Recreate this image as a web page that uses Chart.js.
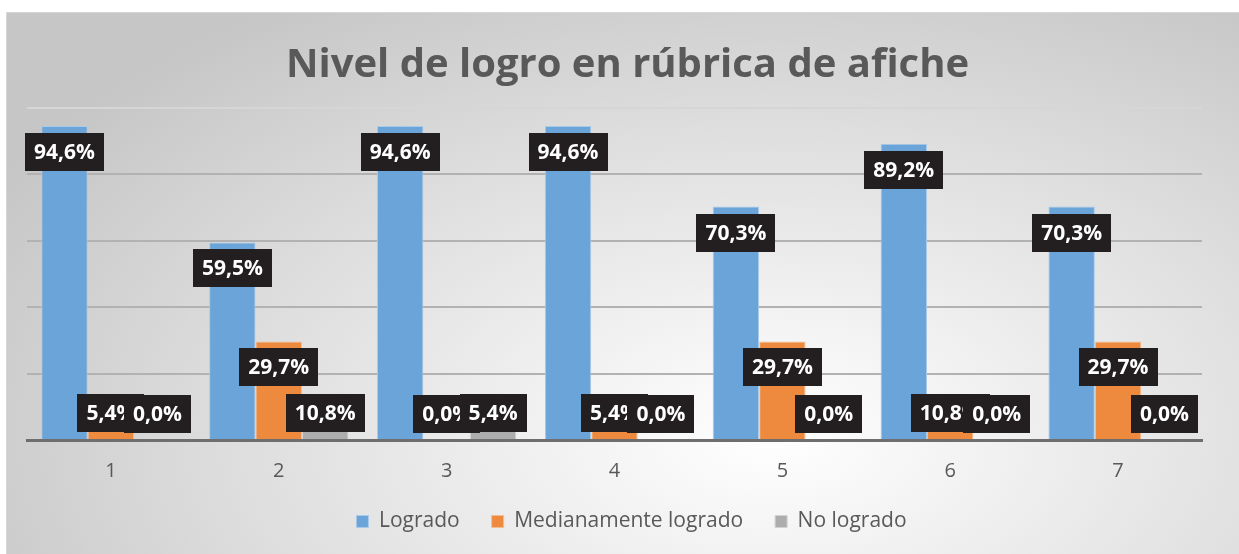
<!DOCTYPE html>
<html>
<head>
<meta charset="utf-8">
<script src="https://cdn.jsdelivr.net/npm/chart.js@4.4.1/dist/chart.umd.min.js"></script>
<style>
  html, body { margin: 0; padding: 0; background: #ffffff; }
  #frame {
    position: absolute; left: 6px; top: 12px; width: 1233px; height: 542px;
    border-top: 1px solid #d6d6d6; border-left: 1px solid #d6d6d6; box-sizing: border-box;
    background: radial-gradient(ellipse 72% 95% at 62% 78%, #ffffff 0%, #f3f3f3 22%, #dedede 60%, #c6c6c6 100%);
  }
  canvas { display: block; }
</style>
</head>
<body>
<div id="frame"><canvas id="chart" width="1232" height="541"></canvas></div>
<script>
const categories = ['1', '2', '3', '4', '5', '6', '7']
const logrado = [94.6, 59.5, 94.6, 94.6, 70.3, 89.2, 70.3]
const medianamente = [5.4, 29.7, 0.0, 5.4, 29.7, 10.8, 29.7]
const noLogrado = [0.0, 10.8, 5.4, 0.0, 0.0, 0.0, 0.0]

const FONT = "'Open Sans', 'Noto Sans', sans-serif"

const fmt = (v) => v.toFixed(1).replace('.', ',') + '%'

// black boxed labels, inside the bar end like the Excel original
const boxLabels = {
  id: 'boxLabels',
  afterDatasetsDraw(chart) {
    const ctx = chart.ctx
    ctx.save()
    ctx.font = `bold 21px ${FONT}`
    ctx.textAlign = 'center'
    ctx.textBaseline = 'middle'
    chart.data.datasets.forEach((ds, i) => {
      const meta = chart.getDatasetMeta(i)
      meta.data.forEach((bar, j) => {
        const text = fmt(ds.data[j])
        const w = ctx.measureText(text).width + 18
        const h = 38
        const cy = Math.min(bar.y + 26, bar.base - 26)
        ctx.fillStyle = '#231f20'
        ctx.fillRect(Math.round(bar.x - w / 2), Math.round(cy - h / 2), Math.round(w), h)
        ctx.fillStyle = '#ffffff'
        ctx.fillText(text, bar.x, cy + 1)
      })
    })
    ctx.restore()
  }
}

// title and legend sit a little off the canvas centre in the original
const nudge = {
  id: 'nudge',
  afterLayout(chart) {
    if (chart.titleBlock) { chart.titleBlock.left += 13; chart.titleBlock.right += 13 }
    if (chart.legend) {
      chart.legend.left += 17; chart.legend.right += 17
      chart.legend.top -= 15; chart.legend.bottom -= 15
    }
  }
}

new Chart(document.getElementById('chart'), {
  type: 'bar',
  data: {
    labels: categories,
    datasets: [
      { label: 'Logrado', data: logrado, backgroundColor: '#6aa4d8', borderColor: '#a9cbea', borderWidth: 1 },
      { label: 'Medianamente logrado', data: medianamente, backgroundColor: '#ed8a3e', borderColor: '#f5bd92', borderWidth: 1 },
      { label: 'No logrado', data: noLogrado, backgroundColor: '#adadad', borderColor: '#d2d2d2', borderWidth: 1 }
    ]
  },
  options: {
    responsive: false,
    animation: false,
    devicePixelRatio: 1,
    categoryPercentage: 0.83,
    barPercentage: 1.0,
    layout: { padding: { left: 20, right: 37, top: 0, bottom: -3 } },
    scales: {
      x: {
        grid: { display: false },
        border: { color: '#6e6e6e', width: 3 },
        ticks: { color: '#595959', font: { family: FONT, size: 20 }, padding: 11 }
      },
      y: {
        min: 0,
        max: 100,
        ticks: { display: false, stepSize: 20 },
        border: { display: false },
        grid: {
          drawTicks: false,
          lineWidth: 2,
          color: (c) => c.tick && c.tick.value === 100 ? '#d6d6d6' : '#b2b2b2'
        }
      }
    },
    plugins: {
      tooltip: { enabled: false },
      title: {
        display: true,
        text: 'Nivel de logro en rúbrica de afiche',
        color: '#595959',
        font: { family: FONT, size: 40, weight: 'bold' },
        padding: { top: 29, bottom: 18 }
      },
      legend: {
        position: 'bottom',
        labels: {
          color: '#595959',
          font: { family: FONT, size: 21 },
          boxWidth: 12,
          boxHeight: 12,
          padding: 32
        }
      }
    }
  },
  plugins: [boxLabels, nudge]
})
</script>
</body>
</html>
